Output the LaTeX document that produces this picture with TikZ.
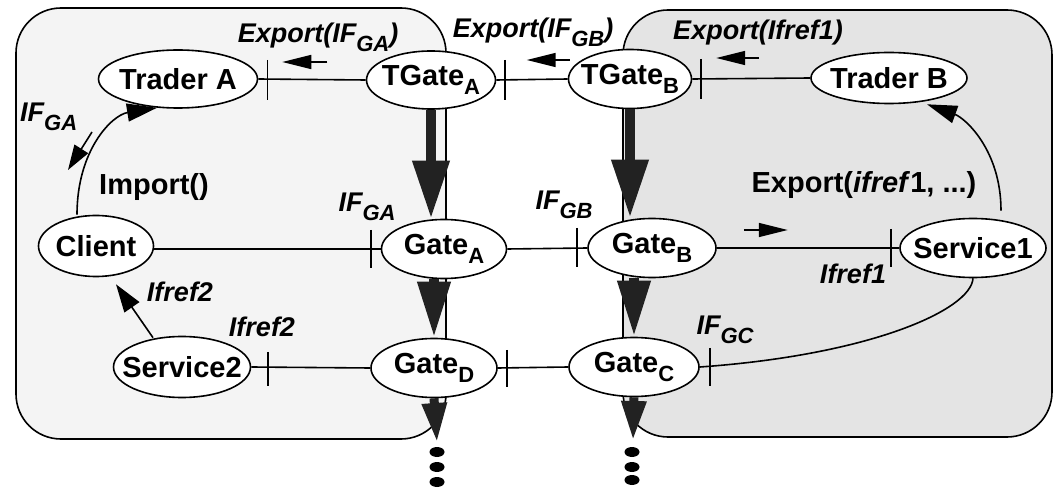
\documentclass[tikz,border=0pt]{standalone}
\usepackage{fontspec}
\setmainfont{Liberation Sans}
\usetikzlibrary{arrows.meta,shapes.geometric,calc}
\definecolor{boxL}{HTML}{F4F4F4}
\definecolor{boxR}{HTML}{E4E4E4}
\definecolor{heavy}{HTML}{222222}
\newcommand\subs[1]{\raisebox{-0.3em}{\fontsize{22bp}{22bp}\selectfont #1}}
\newcommand\ctext[1]{\makebox[0pt]{#1}}
\begin{document}
\begin{tikzpicture}[x=1bp,y=-1bp,
 ent/.style={ellipse,draw,fill=white,line width=1.6bp,inner sep=0pt,
   font=\fontsize{29bp}{31bp}\selectfont\bfseries},
 lab/.style={inner sep=0pt,anchor=base,font=\fontsize{27bp}{29bp}\selectfont\bfseries\itshape},
 labu/.style={inner sep=0pt,anchor=base,font=\fontsize{29bp}{31bp}\selectfont\bfseries},
 link/.style={line width=1.6bp},
 tick/.style={line width=1.6bp},
 small/.style={line width=1.6bp,-{Triangle[length=29bp,width=14bp]}},
 bigA/.style={line width=10bp,draw=heavy,-{Triangle[length=58bp,width=35bp]}},
 bigB/.style={line width=10bp,draw=heavy,-{Triangle[length=56bp,width=31bp]}},
 bigC/.style={line width=9bp,draw=heavy,-{Triangle[length=40bp,width=23bp]}},
 dot/.style={ellipse,fill=black,inner sep=0pt,minimum width=15bp,minimum height=10bp}
]
\useasboundingbox (0,0) rectangle (1055,489);
% domains
\draw[fill=boxL,line width=1.6bp,rounded corners=45bp] (16,8) rectangle (446,439);
\draw[fill=boxR,line width=1.6bp,rounded corners=45bp] (623,10) rectangle (1052,437);
% nodes
\node[ent,minimum width=159bp,minimum height=58bp] (TA) at (178,79) {\ctext{Trader A}};
\node[ent,minimum width=129bp,minimum height=58bp] (TGA) at (431,80) {\ctext{TGate\subs{A}}};
\node[ent,minimum width=123bp,minimum height=59bp] (TGB) at (630,79) {\ctext{TGate\subs{B}}};
\node[ent,minimum width=156bp,minimum height=51bp] (TB) at (889,78) {\ctext{Trader B}};
\node[ent,minimum width=115bp,minimum height=61bp] (CL) at (96,246) {\ctext{Client}};
\node[ent,minimum width=125bp,minimum height=59bp] (GA) at (444,249) {\ctext{Gate\subs{A}}};
\node[ent,minimum width=128bp,minimum height=59bp] (GB) at (652,248) {\ctext{Gate\subs{B}}};
\node[ent,minimum width=146bp,minimum height=59bp] (S1) at (973,248) {\ctext{Service1}};
\node[ent,minimum width=137bp,minimum height=61bp] (S2) at (182,367) {\ctext{Service2}};
\node[ent,minimum width=126bp,minimum height=59bp] (GD) at (434,368) {\ctext{Gate\subs{D}}};
\node[ent,minimum width=130bp,minimum height=59bp] (GC) at (634,367) {\ctext{Gate\subs{C}}};
% dots
\node[dot] (dD1) at (437,452) {};
\node[dot] (dD2) at (437,467) {};
\node[dot] (dD3) at (437,482) {};
\node[dot] (dC1) at (632,452) {};
\node[dot] (dC2) at (632,467) {};
\node[dot] (dC3) at (632,480) {};
% top row links
\draw[link] (TA.east) -- (TGA.west);
\draw[tick] ($(TA.east)+(9,-19)$) -- ++(0,40);
\draw[small] ($(TA.east)+(69,-17)$) -- ++(-45,0);
\draw[link] (TGA.east) -- (TGB.west);
\draw[tick] ($(TGA.east)+(8.5,-20)$) -- ++(0,40);
\draw[small] ($(TGB.west)+(2,-19)$) -- ++(-43,0);
\draw[link] (TGB.east) -- (TB.west);
\draw[tick] ($(TGB.east)+(8.5,-20)$) -- ++(0,40);
\draw[small] ($(TB.west)+(-51,-20)$) -- ++(-43,0);
% middle row links
\draw[link] (CL.east |- GA.west) -- (GA.west);
\draw[tick] ($(GA.west)+(-9.5,-19)$) -- ++(0,38);
\draw[link] (GA.east) -- (GB.west);
\draw[tick] ($(GB.west)+(-10,-20)$) -- ++(0,39);
\draw[link] (GB.east) -- (S1.west);
\draw[tick] ($(S1.west)+(-8,-19)$) -- ++(0,38);
\draw[small] ($(GB.east)+(27,-18)$) -- ++(44,0);
% bottom row links
\draw[link] (S2.east) -- (GD.west);
\draw[tick] ($(S2.east)+(16.5,-15)$) -- ++(0,34);
\draw[link] (GD.east) -- (GC.west);
\draw[tick] ($(GD.east)+(9,-18)$) -- ++(0,37);
% curves
\draw[link,-{Triangle[length=30bp,width=18bp]}] ($(CL.north)+(-19,0)$) .. controls (77,150) and (112,115) .. ($(TA.south)+(-21,-1)$);
\draw[link,-{Triangle[length=30bp,width=18bp]}] ($(S1.north)+(28,-7)$) .. controls (1001,150) and (965,118) .. ($(TB.south)+(38,0)$);
\draw[link] (S1.south) .. controls (971,310) and (870,355) .. (GC.east);
\draw[tick] ($(GC.east)+(10,-19)$) -- ++(0,38);
\draw[link,-{Triangle[length=28bp,width=18bp]}] ($(S2.north)+(-29,2)$) -- ($(CL.south)+(20,7)$);
\coordinate (ifa1) at (92,132);
\coordinate (ifa2) at (68,170);
\draw[line width=1.6bp,-{Triangle[length=25bp,width=16bp]}] (ifa1) -- (ifa2);
% heavy arrows
\coordinate (eD) at (437,443);
\coordinate (eC) at (633,441);
\draw[bigA] (TGA.south) -- (TGA.south |- GA.north);
\draw[bigA] (TGB.south) -- (TGB.south |- GB.north);
\draw[bigB] (GD.north |- GA.south) -- (GD.north);
\draw[bigB] (GC.north |- GB.south) -- (GC.north);
\draw[bigC] (GD.south) -- (eD);
\draw[bigC] (GC.south) -- (eC);
% labels
\node[lab] (lEA) at (318,43) {Export(IF\subs{GA})};
\node[lab] (lEB) at (533,38) {Export(IF\subs{GB})};
\node[lab] (lER) at (758,40) {Export(Ifref1)};
\node[lab,anchor=base west] (lIFGA1) at (20,122) {IF\subs{GA}};
\node[labu] (lImp) at (154,195) {Import()};
\node[lab] (lIFGA2) at (367,212) {IF\subs{GA}};
\node[lab] (lIFGB) at (564,210) {IF\subs{GB}};
\node[labu] (lExp) at (864,193) {Export(\textit{ifref}1, ...)};
\node[lab] (lIfr1) at (853,284) {Ifref1};
\node[lab] (lIFGC) at (725,335) {IF\subs{GC}};
\node[lab] (lIfr2a) at (180,302) {Ifref2};
\node[lab] (lIfr2b) at (262,337) {Ifref2};
\end{tikzpicture}
\end{document}
